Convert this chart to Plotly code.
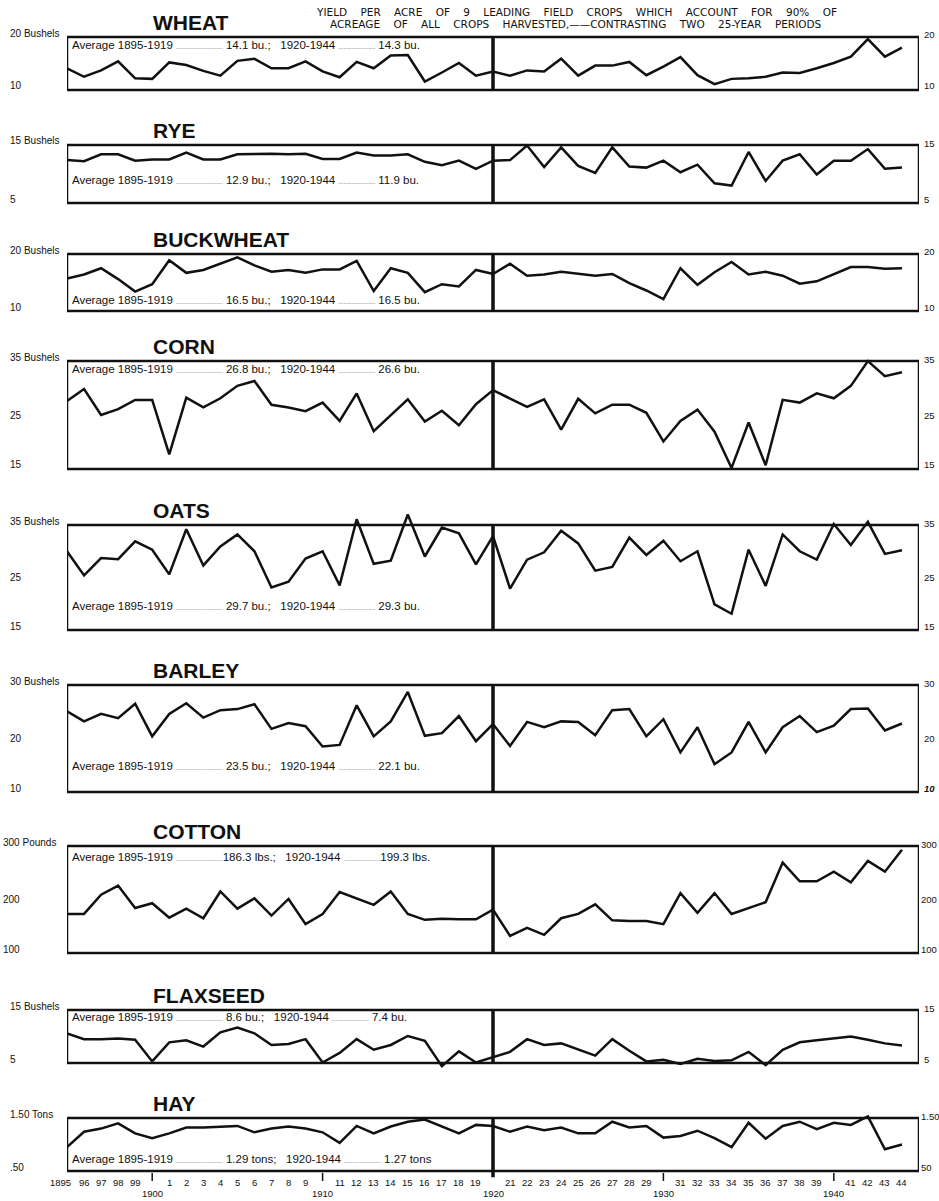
# crop yields chart - 9 small panels stacked, 1895-1944
import plotly.graph_objects as go

years = list(range(1895, 1945))
decades = [1900, 1910, 1920, 1930, 1940]

crops = ["WHEAT", "RYE", "BUCKWHEAT", "CORN", "OATS", "BARLEY", "COTTON", "FLAXSEED", "HAY"]

wheat = [14.1, 12.5, 13.7, 15.4, 12.2, 12.1, 15.2, 14.7, 13.6, 12.7,
         15.5, 15.9, 14.1, 14.1, 15.4, 13.5, 12.4, 15.3, 14.1, 16.5,
         16.6, 11.6, 13.3, 15.1, 12.7, 13.5, 12.7, 13.7, 13.5, 15.9,
         12.7, 14.6, 14.6, 15.3, 12.8, 14.4, 16.2, 12.8, 11.1, 12.1,
         12.2, 12.5, 13.3, 13.2, 14.1, 15.1, 16.3, 19.6, 16.3, 18.0]
rye = [12.4, 12.2, 13.4, 13.4, 12.3, 12.5, 12.5, 13.7, 12.5, 12.5,
       13.4, 13.5, 13.5, 13.4, 13.5, 12.6, 12.6, 13.7, 13.2, 13.2,
       13.4, 12.1, 11.5, 12.3, 10.9, 12.3, 12.4, 14.9, 11.2, 14.6,
       11.4, 10.2, 14.6, 11.3, 11.1, 12.3, 10.3, 11.6, 8.4, 8.0,
       13.8, 8.8, 12.3, 13.4, 9.9, 12.3, 12.3, 14.3, 10.9, 11.1]
buckwheat = [15.7, 16.4, 17.5, 15.6, 13.4, 14.7, 18.9, 16.7, 17.2, 18.3,
             19.4, 18.0, 16.9, 17.2, 16.7, 17.3, 17.3, 18.8, 13.5, 17.5,
             16.7, 13.3, 14.7, 14.3, 17.2, 16.5, 18.3, 16.2, 16.4, 16.9,
             16.6, 16.2, 16.5, 14.9, 13.6, 12.1, 17.5, 14.6, 16.8, 18.6,
             16.4, 16.9, 16.2, 14.8, 15.2, 16.5, 17.7, 17.7, 17.4, 17.5]
corn = [27.6, 29.8, 25.0, 26.1, 27.8, 27.8, 17.7, 28.2, 26.4, 28.1,
        30.4, 31.3, 26.9, 26.4, 25.7, 27.3, 23.9, 29.0, 22.0, 25.0,
        27.9, 23.8, 25.8, 23.1, 27.0, 29.6, 28.1, 26.5, 27.9, 22.3,
        28.0, 25.3, 26.9, 26.9, 25.4, 20.1, 23.9, 26.0, 21.9, 15.2,
        23.6, 15.7, 27.8, 27.3, 29.0, 28.1, 30.4, 35.0, 32.2, 32.9]
oats = [30.0, 25.4, 28.7, 28.5, 31.9, 30.3, 25.6, 34.2, 27.3, 30.9,
        33.2, 30.0, 23.1, 24.2, 28.6, 30.0, 23.5, 36.1, 27.6, 28.2,
        37.0, 29.0, 34.5, 33.4, 27.5, 32.9, 22.9, 28.4, 29.8, 33.9,
        31.5, 26.3, 27.0, 32.6, 29.3, 32.0, 28.1, 30.0, 19.9, 18.1,
        30.3, 23.4, 33.2, 30.0, 28.4, 35.2, 31.2, 35.6, 29.5, 30.2]
barley = [25.1, 23.2, 24.6, 23.8, 26.5, 20.4, 24.6, 26.6, 23.9, 25.3,
          25.5, 26.4, 21.8, 22.9, 22.3, 18.5, 18.8, 26.2, 20.4, 23.2,
          28.7, 20.5, 21.0, 24.2, 19.5, 22.7, 18.6, 23.1, 22.1, 23.2,
          23.1, 20.6, 25.3, 25.5, 20.4, 23.6, 17.4, 22.1, 15.2, 17.4,
          23.1, 17.4, 22.1, 24.2, 21.2, 22.4, 25.5, 25.6, 21.5, 22.8]
cotton = [173, 173, 209, 226, 184, 193, 166, 183, 165, 215,
          183, 202, 170, 201, 154, 173, 214, 202, 190, 215,
          173, 162, 164, 163, 163, 181, 132, 147, 134, 165,
          173, 191, 161, 160, 160, 154, 212, 175, 212, 173,
          184, 195, 269, 234, 234, 252, 232, 272, 252, 293]
flaxseed = [10.6, 9.5, 9.5, 9.6, 9.4, 5.3, 8.9, 9.3, 8.1, 10.8,
            11.7, 10.6, 8.4, 8.6, 9.5, 5.1, 6.9, 9.5, 7.5, 8.4,
            10.1, 9.2, 4.4, 7.2, 5.1, 6.1, 7.1, 9.5, 8.4, 8.7,
            7.5, 6.4, 9.5, 7.3, 5.3, 5.6, 4.8, 5.8, 5.4, 5.5,
            7.1, 4.6, 7.5, 8.9, 9.3, 9.6, 10.0, 9.4, 8.7, 8.3]
hay = [0.95, 1.24, 1.30, 1.40, 1.21, 1.12, 1.21, 1.32, 1.32, 1.34,
       1.35, 1.23, 1.30, 1.34, 1.30, 1.23, 1.03, 1.35, 1.21, 1.34,
       1.43, 1.47, 1.34, 1.21, 1.37, 1.35, 1.24, 1.34, 1.27, 1.32,
       1.21, 1.21, 1.43, 1.32, 1.35, 1.13, 1.16, 1.26, 1.12, 0.95,
       1.41, 1.11, 1.35, 1.43, 1.29, 1.41, 1.37, 1.53, 0.91, 1.00]

series = [wheat, rye, buckwheat, corn, oats, barley, cotton, flaxseed, hay]

# scale of each panel
y_low = [10, 5, 10, 15, 15, 10, 100, 5, 0.5]
y_high = [20, 15, 20, 35, 35, 30, 300, 15, 1.5]
y_mid = [None, None, None, 25, 25, 20, 200, None, None]
left_top = ["20 Bushels", "15 Bushels", "20 Bushels", "35 Bushels", "35 Bushels",
            "30 Bushels", "300 Pounds", "15 Bushels", "1.50 Tons"]
left_bot = ["10", "5", "10", "15", "15", "10", "100", "5", ".50"]
right_top = ["20", "15", "20", "35", "35", "30", "300", "15", "1.50"]
right_bot = ["10", "5", "10", "15", "15", "<b><i>10</i></b>", "100", "5", "50"]

avg_early = ["14.1 bu.;", "12.9 bu.;", "16.5 bu.;", "26.8 bu.;", "29.7 bu.;",
             "23.5 bu.;", "186.3 lbs.;", "8.6 bu.;", "1.29 tons;"]
avg_late = ["14.3 bu.", "11.9 bu.", "16.5 bu.", "26.6 bu.", "29.3 bu.",
            "22.1 bu.", "199.3 lbs.", "7.4 bu.", "1.27 tons"]

# ---- layout, in pixels of the 939x1201 page ----
W, H = 939, 1201
L, R = 67, 20
box_top = [37, 145, 254, 361, 525, 685, 846, 1010, 1118]
box_bot = [90, 203, 311, 469, 630, 792, 953, 1063, 1171]
avg_y = [45, 180, 300, 369, 606, 766, 857, 1017, 1159]
PAD = 0.12                   # room for the line to run past the frame

INK = "#111111"
LABEL_FONT = "Liberation Sans, Arial, sans-serif"
TITLE_FONT = "Liberation Sans, Arial, sans-serif"
NB = "\u00a0"


def py(p):
    return 1 - p / H


def px(p):
    return (p - L) / (W - L - R)


def dots(n):
    return '<span style="font-size:6px">' + "." * n + "</span>"


def small(size=10):
    return dict(family=LABEL_FONT, size=size, color=INK)


fig = go.Figure()
annotations = []
shapes = []

for i, crop in enumerate(crops):
    n = "" if i == 0 else str(i + 1)
    xa, ya = "x" + n, "y" + n
    span = y_high[i] - y_low[i]
    hpx = box_bot[i] - box_top[i]

    fig.add_trace(go.Scatter(
        x=years, y=series[i], xaxis=xa, yaxis=ya, mode="lines",
        line=dict(color=INK, width=2.5),
        name=crop, showlegend=False
    ))

    fig.update_layout(**{
        "xaxis" + n: dict(domain=[0, 1], range=[1895, 1945], anchor=ya,
                          showline=False, showgrid=False, zeroline=False, ticks="",
                          showticklabels=False, fixedrange=True),
        "yaxis" + n: dict(domain=[py(box_bot[i] + PAD * hpx), py(box_top[i] - PAD * hpx)],
                          range=[y_low[i] - PAD * span, y_high[i] + PAD * span], anchor=xa,
                          showline=False, showgrid=False, zeroline=False, ticks="",
                          showticklabels=False, fixedrange=True),
    })

    # frame
    shapes.append(dict(type="rect", xref=xa, yref=ya, x0=1895, x1=1945,
                       y0=y_low[i], y1=y_high[i], line=dict(color=INK, width=2.5)))
    # the 1920 divider
    shapes.append(dict(type="line", xref=xa, yref=ya, x0=1920, x1=1920,
                       y0=y_low[i] - (0.25 * span if i == 8 else 0), y1=y_high[i],
                       line=dict(color=INK, width=3.5)))

    # crop title
    annotations.append(dict(text="<b>" + crop + "</b>", xref="paper", yref="paper",
                            x=px(151), y=py(box_top[i] - 1), xanchor="left", yanchor="bottom",
                            showarrow=False, font=dict(family=TITLE_FONT, size=21, color=INK)))

    # left scale
    lx = px(1) if crop == "COTTON" else px(8)
    rx = px(919) if crop in ("COTTON", "HAY") else px(922)
    annotations.append(dict(text=left_top[i], xref="paper", yref="paper", x=lx,
                            y=py(box_top[i] - 4), xanchor="left", yanchor="middle",
                            showarrow=False, font=small(10)))
    annotations.append(dict(text=left_bot[i], xref="paper", yref="paper", x=lx,
                            y=py(box_bot[i] - 4), xanchor="left", yanchor="middle",
                            showarrow=False, font=small(10)))
    # right scale
    annotations.append(dict(text=right_top[i], xref="paper", yref="paper", x=rx,
                            y=py(box_top[i] - 2), xanchor="left", yanchor="middle",
                            showarrow=False, font=small(9.5)))
    annotations.append(dict(text=right_bot[i], xref="paper", yref="paper", x=rx,
                            y=py(box_bot[i] - 4), xanchor="left", yanchor="middle",
                            showarrow=False, font=small(9.5)))
    if y_mid[i] is not None:
        annotations.append(dict(text=str(y_mid[i]), xref="paper", yref=ya, x=lx,
                                y=y_mid[i], xanchor="left", yanchor="middle",
                                showarrow=False, font=small(10)))
        annotations.append(dict(text=str(y_mid[i]), xref="paper", yref=ya, x=rx,
                                y=y_mid[i], xanchor="left", yanchor="middle",
                                showarrow=False, font=small(9.5)))

    # averages line
    sep = "" if crop == "COTTON" else " "
    txt = ("Average 1895-1919 " + dots(28) + sep + avg_early[i] + NB * 3 +
           "1920-1944 " + dots(22) + sep + avg_late[i])
    annotations.append(dict(text=txt, xref="paper", yref="paper", x=px(70),
                            y=py(avg_y[i]), xanchor="left", yanchor="middle",
                            showarrow=False, font=small(11.5)))

# year labels along the bottom
for y in years:
    if y in decades:
        continue
    if y == 1895:
        t, anchor, shift = "1895", "right", 6
    else:
        t = str(y % 100) if y % 100 >= 10 else str(y % 10)
        anchor, shift = "center", 0
    annotations.append(dict(text=t, xref="x9", yref="paper", x=y, y=py(1182),
                            xanchor=anchor, xshift=shift, yanchor="middle",
                            showarrow=False, font=small(9.5)))

for d in decades:
    annotations.append(dict(text=str(d), xref="x9", yref="paper", x=d, y=py(1193),
                            xanchor="center", yanchor="middle", showarrow=False,
                            font=small(9.5)))
    if d != 1920:
        shapes.append(dict(type="line", xref="x9", yref="paper", x0=d, x1=d,
                           y0=py(1181), y1=py(1173), line=dict(color=INK, width=1.5)))

# heading
hdr1 = "YIELD PER ACRE OF 9 LEADING FIELD CROPS WHICH ACCOUNT FOR 90% OF"
hdr2 = "ACREAGE OF ALL CROPS HARVESTED,\u2014\u2014CONTRASTING TWO 25-YEAR PERIODS"
for k, t in enumerate([hdr1, hdr2]):
    annotations.append(dict(text=t.replace(" ", NB * 4), xref="paper", yref="paper",
                            x=px(576), y=py(12 + 12 * k), xanchor="center", yanchor="middle",
                            showarrow=False,
                            font=dict(family="DejaVu Sans, sans-serif", size=10.5, color=INK)))

fig.update_layout(
    width=W, height=H,
    margin=dict(l=L, r=R, t=0, b=0, pad=0),
    paper_bgcolor="white", plot_bgcolor="rgba(0,0,0,0)",
    annotations=annotations, shapes=shapes,
    showlegend=False,
)

# drop the page's default body margin so the figure fills the window exactly
fig.write_html("out.html", config={"displayModeBar": False},
               post_script="document.body.style.margin='0';document.body.style.overflow='hidden';")
